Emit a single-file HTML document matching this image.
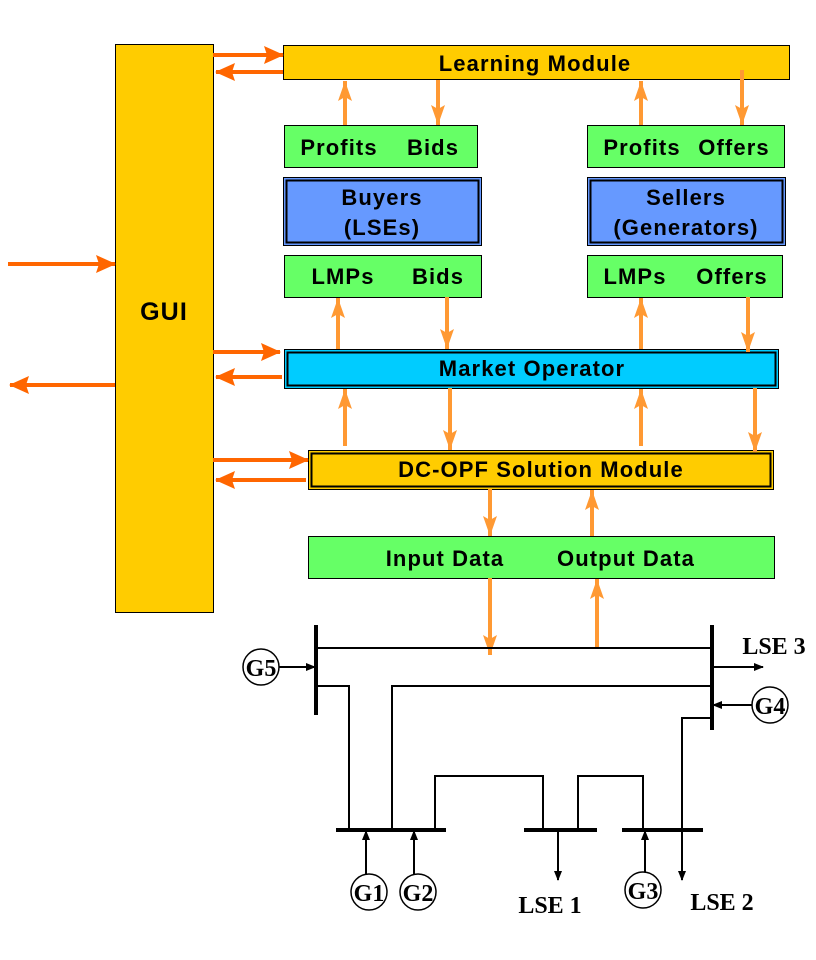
<!DOCTYPE html>
<html><head><meta charset="utf-8"><style>html,body{margin:0;padding:0;background:#fff;width:816px;height:960px;overflow:hidden}</style></head>
<body>
<svg width="816" height="960" viewBox="0 0 816 960" xmlns="http://www.w3.org/2000/svg">
<defs>
<marker id="al" markerWidth="22" markerHeight="14" refX="20" refY="7" orient="auto" markerUnits="userSpaceOnUse"><path d="M0,0 L20,7 L0,14 L4,7 Z" fill="#FF9933"/></marker>
<marker id="ad" markerWidth="20" markerHeight="18" refX="19" refY="9" orient="auto" markerUnits="userSpaceOnUse"><path d="M0,0 L20,9 L0,18 L3,9 Z" fill="#FF6600"/></marker>
<marker id="ab" markerWidth="10" markerHeight="8" refX="9" refY="4" orient="auto" markerUnits="userSpaceOnUse"><path d="M0,0 L10,4 L0,8 Z" fill="#000"/></marker>
</defs>
<g font-family="Liberation Sans, sans-serif" font-weight="bold" font-size="22" letter-spacing="1.1" text-anchor="middle">
<rect x="115.5" y="44.5" width="98" height="568" fill="#FFCC00" stroke="#000"/>
<text x="164" y="320" font-size="25">GUI</text>
<rect x="283.5" y="45.5" width="506" height="34" fill="#FFCC00" stroke="#000"/>
<text x="535" y="71">Learning Module</text>
<rect x="284.5" y="125.5" width="193" height="42" fill="#66FF66" stroke="#000"/>
<text x="339" y="155">Profits</text><text x="433" y="155">Bids</text>
<rect x="587.5" y="125.5" width="197" height="42" fill="#66FF66" stroke="#000"/>
<text x="642" y="155">Profits</text><text x="734" y="155">Offers</text>
<rect x="283.5" y="177.5" width="198" height="68" fill="#6699FF" stroke="#000"/>
<rect x="286.5" y="180.5" width="192" height="62" fill="none" stroke="#000" stroke-width="2"/>
<text x="382" y="205">Buyers</text><text x="382" y="235">(LSEs)</text>
<rect x="587.5" y="177.5" width="198" height="68" fill="#6699FF" stroke="#000"/>
<rect x="590.5" y="180.5" width="192" height="62" fill="none" stroke="#000" stroke-width="2"/>
<text x="686" y="205">Sellers</text><text x="686" y="235">(Generators)</text>
<rect x="284.5" y="255.5" width="197" height="42" fill="#66FF66" stroke="#000"/>
<text x="343" y="284">LMPs</text><text x="438" y="284">Bids</text>
<rect x="587.5" y="255.5" width="195" height="42" fill="#66FF66" stroke="#000"/>
<text x="635" y="284">LMPs</text><text x="732" y="284">Offers</text>
<rect x="284.5" y="349.5" width="494" height="39" fill="#00CCFF" stroke="#000"/>
<rect x="287.5" y="352.5" width="488" height="33" fill="none" stroke="#000" stroke-width="2"/>
<text x="532" y="376">Market Operator</text>
<rect x="308.5" y="450.5" width="465" height="39" fill="#FFCC00" stroke="#000"/>
<rect x="311.5" y="453.5" width="459" height="33" fill="none" stroke="#000" stroke-width="2"/>
<text x="541" y="477">DC-OPF  Solution Module</text>
<rect x="308.5" y="536.5" width="466" height="42" fill="#66FF66" stroke="#000"/>
<text x="445" y="566">Input Data</text><text x="626" y="566">Output Data</text>
</g>
<g stroke="#FF6600" stroke-width="4" fill="none">
<line x1="213" y1="55" x2="283" y2="55" marker-end="url(#ad)"/>
<line x1="283" y1="72" x2="216" y2="72" marker-end="url(#ad)"/>
<line x1="213" y1="352" x2="280" y2="352" marker-end="url(#ad)"/>
<line x1="282" y1="377" x2="216" y2="377" marker-end="url(#ad)"/>
<line x1="213" y1="460" x2="308" y2="460" marker-end="url(#ad)"/>
<line x1="306" y1="480" x2="216" y2="480" marker-end="url(#ad)"/>
<line x1="8" y1="264" x2="115" y2="264" marker-end="url(#ad)"/>
<line x1="115" y1="385" x2="10" y2="385" marker-end="url(#ad)"/>
</g>
<g stroke="#FF9933" stroke-width="4" fill="none">
<line x1="345" y1="125" x2="345" y2="81" marker-end="url(#al)"/>
<line x1="438" y1="80" x2="438" y2="125" marker-end="url(#al)"/>
<line x1="641" y1="125" x2="641" y2="81" marker-end="url(#al)"/>
<line x1="742" y1="70" x2="742" y2="125" marker-end="url(#al)"/>
<line x1="338" y1="349" x2="338" y2="298" marker-end="url(#al)"/>
<line x1="447" y1="297" x2="447" y2="349" marker-end="url(#al)"/>
<line x1="641" y1="349" x2="641" y2="298" marker-end="url(#al)"/>
<line x1="748" y1="297" x2="748" y2="352" marker-end="url(#al)"/>
<line x1="345" y1="446" x2="345" y2="389" marker-end="url(#al)"/>
<line x1="450" y1="388" x2="450" y2="450" marker-end="url(#al)"/>
<line x1="641" y1="446" x2="641" y2="389" marker-end="url(#al)"/>
<line x1="755" y1="388" x2="755" y2="452" marker-end="url(#al)"/>
<line x1="490" y1="489" x2="490" y2="536" marker-end="url(#al)"/>
<line x1="592" y1="536" x2="592" y2="490" marker-end="url(#al)"/>
<line x1="490" y1="578" x2="490" y2="655" marker-end="url(#al)"/>
<line x1="597" y1="648" x2="597" y2="579" marker-end="url(#al)"/>
</g>
<g stroke="#000" fill="none">
<line x1="316" y1="625" x2="316" y2="715" stroke-width="4"/>
<line x1="712" y1="625" x2="712" y2="730" stroke-width="4"/>
<line x1="336" y1="830" x2="446" y2="830" stroke-width="4"/>
<line x1="524" y1="830" x2="597" y2="830" stroke-width="4"/>
<line x1="622" y1="830" x2="703" y2="830" stroke-width="4"/>
<g stroke-width="2">
<line x1="316" y1="648" x2="712" y2="648"/>
<polyline points="316,686 349,686 349,830"/>
<polyline points="392,830 392,686 712,686"/>
<polyline points="435,830 435,776 543,776 543,830"/>
<polyline points="578,830 578,776 643,776 643,830"/>
<polyline points="712,718 682,718 682,880" marker-end="url(#ab)"/>
<line x1="752" y1="705" x2="713" y2="705" marker-end="url(#ab)"/>
<line x1="712" y1="667" x2="763" y2="667" marker-end="url(#ab)"/>
<line x1="278" y1="667" x2="315" y2="667" marker-end="url(#ab)"/>
<line x1="366" y1="876" x2="366" y2="831" marker-end="url(#ab)"/>
<line x1="414" y1="876" x2="414" y2="831" marker-end="url(#ab)"/>
<line x1="645" y1="874" x2="645" y2="831" marker-end="url(#ab)"/>
<line x1="558" y1="830" x2="558" y2="880" marker-end="url(#ab)"/>
</g>
<g stroke-width="1.5" fill="#fff">
<circle cx="261" cy="667" r="18"/>
<circle cx="770" cy="705" r="18"/>
<circle cx="369" cy="892" r="18"/>
<circle cx="418" cy="892" r="18"/>
<circle cx="643" cy="890" r="18"/>
</g>
</g>
<g font-family="Liberation Serif, serif" font-weight="bold" font-size="24" text-anchor="middle">
<text x="261" y="676">G5</text>
<text x="770" y="714">G4</text>
<text x="369" y="901">G1</text>
<text x="418" y="901">G2</text>
<text x="643" y="899">G3</text>
<text x="550" y="913">LSE 1</text>
<text x="722" y="910">LSE 2</text>
<text x="774" y="654">LSE 3</text>
</g>
</svg>
</body></html>
